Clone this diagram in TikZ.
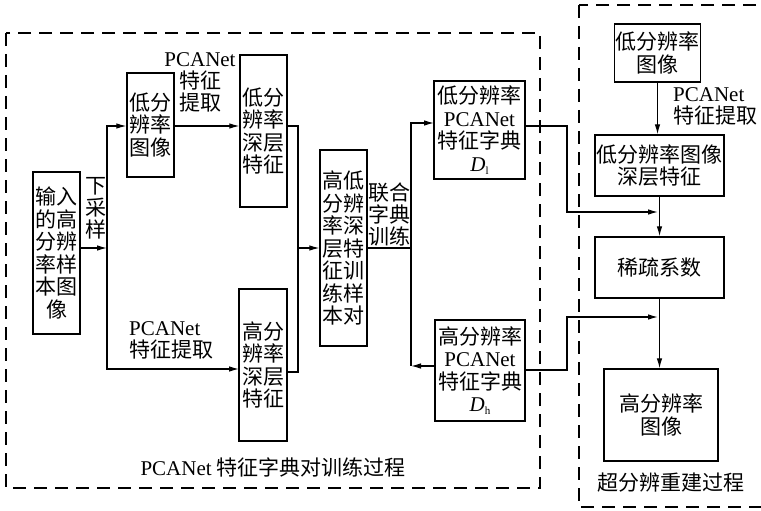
\documentclass[tikz,border=0pt]{standalone}
\usepackage{fontspec}
\setmainfont{Noto Sans CJK SC}
\newfontfamily\lat{Liberation Serif}
\usetikzlibrary{arrows.meta}
\newcommand\pcn{{\lat\fontsize{21}{22}\selectfont PCANet}}
\newcommand\dsub[1]{{\lat\fontsize{21}{22}\selectfont\itshape D}{\lat\fontsize{11}{11}\selectfont\raisebox{-3pt}{#1}}}
\begin{document}
\begin{tikzpicture}[x=1pt,y=-1pt,
  box/.style={draw, line width=1.4pt, inner sep=1pt, align=center, font=\fontsize{21}{22.5}\selectfont},
  conn/.style={line width=1.1pt},
  arr/.style={conn, -{Latex[length=10pt,width=5.5pt]}},
  dbox/.style={line width=2.6pt, dash pattern=on 13pt off 8pt},
  lbl/.style={align=center, inner sep=0pt, font=\fontsize{21}{22}\selectfont}]
\useasboundingbox (0,0) rectangle (761,511);
% dashed frames
\draw[dbox] (6,33) rectangle (540,488);
\draw[dbox] (579,5) rectangle (764,507);
% boxes
\node[box, minimum width=47pt, minimum height=162pt] (inp) at (56.5,253) {输入\\的高\\分辨\\率样\\本图\\像};
\node[box, minimum width=47pt, minimum height=104pt] (lrimg) at (150.5,125) {低分\\辨率\\图像};
\node[box, minimum width=47pt, minimum height=152pt] (lrfeat) at (263.5,131) {低分\\辨率\\深层\\特征};
\node[box, minimum width=48pt, minimum height=152pt] (hrfeat) at (263,365) {高分\\辨率\\深层\\特征};
\node[box, minimum width=47pt, minimum height=196pt] (pair) at (343.5,248) {高低\\分辨\\率深\\层特\\征训\\练样\\本对};
\node[box, minimum width=91pt, minimum height=98pt] (Dl) at (479.5,130) {低分辨率\\\pcn\\特征字典\\\dsub{l}};
\node[box, minimum width=90pt, minimum height=101pt] (Dh) at (480,370.5) {高分辨率\\\pcn\\特征字典\\\dsub{h}};
\node[box, minimum width=85pt, minimum height=58pt] (r1) at (657.5,53) {低分辨率\\图像};
\node[box, minimum width=129pt, minimum height=61pt] (r2) at (659.5,165.5) {低分辨率图像\\深层特征};
\node[box, minimum width=129pt, minimum height=61pt] (r3) at (659.5,267.5) {稀疏系数};
\node[box, minimum width=114pt, minimum height=92pt] (r4) at (661,415) {高分辨率\\图像};
% labels
\node[lbl] (l1) at (200,82) {\pcn\\特征\\提取};
\node[lbl] (l2) at (96,208) {下\\采\\样};
\node[lbl, anchor=west, align=left] (l3) at (129,340) {\pcn\\特征提取};
\node[lbl] (l4) at (389,214) {联合\\字典\\训练};
\node[lbl, anchor=west, align=left] (l5) at (673,106) {\pcn\\特征提取};
\node[lbl] (t1) at (273,467) {\pcn\ 特征字典对训练过程};
\node[lbl] (t2) at (671,483) {超分辨重建过程};
% coordinates
\coordinate (ds) at (107,248);
\coordinate (h1) at (239,369);
\coordinate (lfo) at (287,126);
\coordinate (hfo) at (287,372);
\coordinate (m) at (298,248);
\coordinate (jn) at (411,248);
\coordinate (dla) at (434,123);
\coordinate (dhc) at (411,366);
\coordinate (dha) at (435,366);
\coordinate (dlo) at (525,126);
\coordinate (kl) at (567,212);
\coordinate (jl) at (658,212);
\coordinate (dho) at (525,370);
\coordinate (kh) at (567,317);
\coordinate (jh) at (658,317);
% connectors
\draw[arr] (inp.east |- ds) -- (ds);
\draw[arr] (ds) |- (lrimg.west |- lfo);
\draw[arr] (ds) |- (h1);
\draw[arr] (lrimg.east |- lfo) -- (lrfeat.west |- lfo);
\draw[conn] (lfo) -| (m);
\draw[conn] (hfo) -| (m);
\draw[arr] (m) -- (pair.west);
\draw[conn] (pair.east) -- (jn);
\draw[arr] (jn) |- (dla);
\draw[conn] (jn) -- (dhc);
\draw[arr] (dha) -- (dhc);
\draw[arr] (dlo) -| (kl) -- (jl);
\draw[arr] (dho) -| (kh) -- (jh);
\draw[arr] (r1.south) -- (r1.south |- r2.north);
\draw[arr] (r2.south) -- (r2.south |- r3.north);
\draw[arr] (r3.south) -- (r3.south |- r4.north);
\end{tikzpicture}
\end{document}
